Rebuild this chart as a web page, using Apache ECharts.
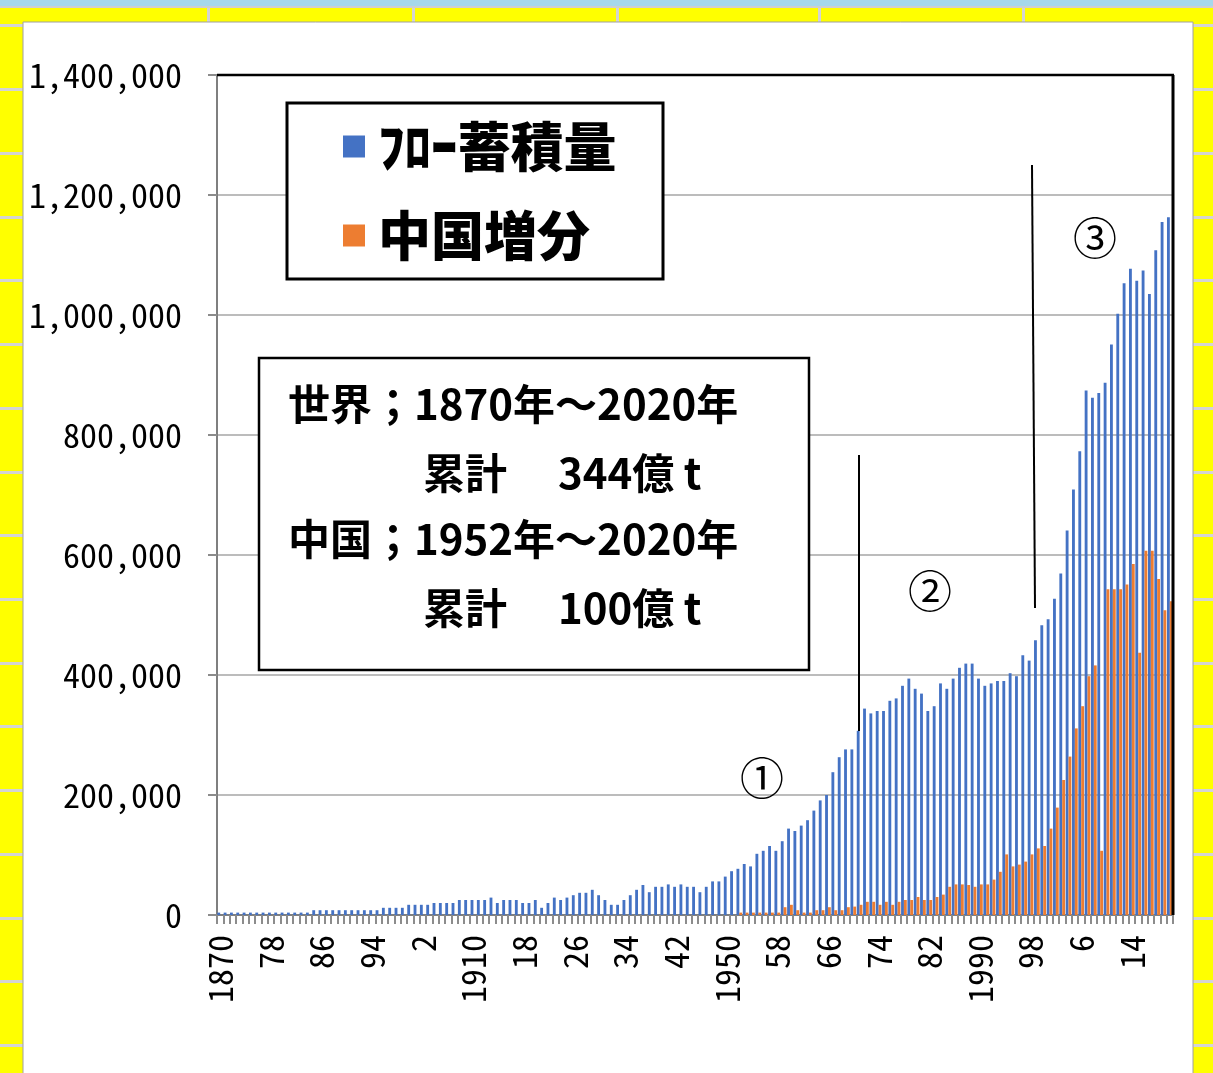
<!DOCTYPE html>
<html>
<head>
<meta charset="utf-8">
<title>フロー蓄積量と中国増分</title>
<script src="https://cdn.jsdelivr.net/npm/echarts@6/dist/echarts.min.js"></script>
<style>
html, body { margin: 0; padding: 0; background: #ffff00; }
#main { width: 1213px; height: 1073px; }
</style>
</head>
<body>
<div id="main"></div>
<script>
// years 1870 .. 2020
var years = [];
for (var y = 1870; y <= 2020; y++) years.push(y);

// category text as in the sheet: full year on decades, else last digits
var tickLabels = years.map(function (y) {
  return y % 10 === 0 ? String(y) : String(y % 100);
});

// フロー蓄積量 (1870-2020)
var flowStock = [
  4000, 4000, 4000, 4000, 4000, 4000, 4000, 4000, 4000, 4000,          // 1870
  4000, 4000, 4000, 4000, 4000, 8000, 8000, 8000, 8000, 8000,          // 1880
  8000, 8000, 8000, 8000, 8000, 8000, 12000, 12000, 12000, 12000,      // 1890
  17000, 17000, 17000, 17000, 20000, 20000, 20000, 20000, 25000, 25000, // 1900
  25000, 25000, 25000, 29000, 20000, 25000, 25000, 25000, 20000, 20000, // 1910
  25000, 12000, 20000, 29000, 25000, 29000, 33000, 37000, 37000, 42000, // 1920
  33000, 25000, 17000, 17000, 25000, 33000, 42000, 50000, 38000, 47000, // 1930
  47000, 51000, 47000, 51000, 47000, 47000, 38000, 47000, 56000, 56000, // 1940
  64000, 73000, 77000, 85000, 81000, 102000, 107000, 115000, 107000, 123000, // 1950
  144000, 140000, 149000, 158000, 174000, 191000, 200000, 238000, 263000, 276000, // 1960
  276000, 307000, 344000, 336000, 340000, 340000, 357000, 361000, 382000, 394000, // 1970
  377000, 369000, 340000, 348000, 386000, 377000, 394000, 412000, 419000, 419000, // 1980
  394000, 382000, 386000, 390000, 390000, 403000, 398000, 433000, 424000, 458000, // 1990
  483000, 493000, 527000, 569000, 641000, 709000, 773000, 874000, 862000, 870000, // 2000
  887000, 951000, 1002000, 1053000, 1077000, 1057000, 1074000, 1035000, 1108000, 1155000, // 2010
  1163000                                                                // 2020
];

// 中国増分 (1952-2020)
var chinaStart = 1952;
var chinaIncrement = [
  4000, 4000, 4000, 4000, 4000, 4000, 4000, 13000,                      // 1952
  17000, 8000, 4000, 4000, 8000, 8000, 13000, 8000, 8000, 13000,        // 1960
  14000, 17000, 22000, 22000, 17000, 22000, 17000, 22000, 25000, 25000, // 1970
  30000, 25000, 25000, 30000, 34000, 47000, 51000, 51000, 50000, 47000, // 1980
  51000, 51000, 59000, 72000, 101000, 81000, 84000, 89000, 101000, 111000, // 1990
  115000, 144000, 179000, 225000, 264000, 311000, 348000, 398000, 416000, 107000, // 2000
  543000, 543000, 543000, 551000, 585000, 437000, 607000, 607000, 560000, 508000, // 2010
  523000                                                                 // 2020
];
var chinaSeries = years.map(function (y) {
  return y < chinaStart ? null : chinaIncrement[y - chinaStart];
});

var yTicks = [0, 200000, 400000, 600000, 800000, 1000000, 1200000, 1400000];

var cjk = "'Noto Sans CJK JP', sans-serif";
var numFont = "'Noto Sans Mono CJK JP', 'DejaVu Sans Mono', monospace";

// side strips of the sheet behind the chart
var rowLines = [24, 88, 152, 216, 279, 343, 407, 471, 534, 598, 662, 725, 789, 853, 917, 980, 1044];
var colLines = [207, 412, 616, 818, 1022];

var bg = [
  { type: 'rect', z: -10, shape: { x: 0, y: 0, width: 1213, height: 6 }, style: { fill: '#a6d8ec' } },
  { type: 'rect', z: -10, shape: { x: 0, y: 6, width: 1213, height: 2 }, style: { fill: '#cfcfcf' } }
];
colLines.forEach(function (x) {
  bg.push({ type: 'rect', z: -10, shape: { x: x, y: 8, width: 3, height: 16 }, style: { fill: '#d4d4d4' } });
});
rowLines.forEach(function (yy) {
  bg.push({ type: 'rect', z: -10, shape: { x: 0, y: yy, width: 1213, height: 3 }, style: { fill: '#d4d4d4' } });
});
bg.push({ type: 'rect', z: -9, shape: { x: 23, y: 22, width: 1170, height: 1060 },
  style: { fill: '#ffffff', stroke: '#a0a0a0', lineWidth: 1 } });

function boxText(x, y, s) {
  return { type: 'text', z: 9, style: { x: x, y: y, text: s, fill: '#000',
    fontSize: 42, fontWeight: 'bold', fontFamily: cjk, verticalAlign: 'middle' } };
}

var overlay = [
  // plot frame top / right
  { type: 'line', z: 20, shape: { x1: 217, y1: 75, x2: 1174, y2: 75 }, style: { stroke: '#000', lineWidth: 2.5 } },
  { type: 'line', z: 20, shape: { x1: 1173, y1: 75, x2: 1173, y2: 915 }, style: { stroke: '#000', lineWidth: 3 } },
  // legend frame
  { type: 'rect', z: 8, shape: { x: 287, y: 103, width: 376, height: 176 },
    style: { fill: '#fff', stroke: '#000', lineWidth: 3 } },
  // info box
  { type: 'rect', z: 8, shape: { x: 259, y: 358, width: 550, height: 312 },
    style: { fill: '#fff', stroke: '#000', lineWidth: 2.5 } },
  boxText(288, 404, '世界；1870年～2020年'),
  boxText(423, 473, '累計'),
  boxText(558, 473, '344億 t'),
  boxText(288, 539, '中国；1952年～2020年'),
  boxText(423, 608, '累計'),
  boxText(558, 608, '100億 t'),
  // period markers
  { type: 'line', z: 20, shape: { x1: 859, y1: 455, x2: 859, y2: 731 }, style: { stroke: '#000', lineWidth: 2 } },
  { type: 'line', z: 20, shape: { x1: 1032, y1: 165, x2: 1035, y2: 608 }, style: { stroke: '#000', lineWidth: 2 } },
  { type: 'text', z: 20, style: { x: 762, y: 778, text: '①', fill: '#000', fontSize: 44,
    fontFamily: cjk, align: 'center', verticalAlign: 'middle' } },
  { type: 'text', z: 20, style: { x: 930, y: 591, text: '②', fill: '#000', fontSize: 44,
    fontFamily: cjk, align: 'center', verticalAlign: 'middle' } },
  { type: 'text', z: 20, style: { x: 1095, y: 238, text: '③', fill: '#000', fontSize: 44,
    fontFamily: cjk, align: 'center', verticalAlign: 'middle' } }
];

var chart = echarts.init(document.getElementById('main'));
var option = {
  animation: false,
  backgroundColor: '#ffff00',
  grid: { left: 217, right: 40, top: 75, bottom: 158 },
  legend: {
    orient: 'vertical',
    left: 343,
    top: 120,
    padding: 0,
    itemWidth: 22,
    itemHeight: 22,
    itemGap: 36,
    icon: 'rect',
    selectedMode: false,
    z: 12,
    textStyle: { fontSize: 53, fontWeight: 900, fontFamily: cjk, color: '#000',
      lineHeight: 52, padding: [0, 0, 0, 8] },
    data: ['ﾌﾛｰ蓄積量', '中国増分']
  },
  xAxis: {
    type: 'category',
    data: tickLabels,
    axisLine: { lineStyle: { color: '#7f7f7f', width: 2 } },
    axisTick: { show: true, interval: 0, length: 9, lineStyle: { color: '#8c8c8c', width: 2 } },
    axisLabel: { interval: 7, rotate: 90, margin: 20, fontSize: 34, fontFamily: numFont, color: '#000' }
  },
  yAxis: {
    type: 'value',
    min: yTicks[0],
    max: yTicks[yTicks.length - 1],
    interval: yTicks[1] - yTicks[0],
    axisLine: { show: true, lineStyle: { color: '#7f7f7f', width: 2 } },
    axisTick: { show: true, length: 9, lineStyle: { color: '#8c8c8c', width: 2 } },
    axisLabel: {
      margin: 35, fontSize: 34, fontFamily: numFont, color: '#000',
      formatter: function (v) { return v.toLocaleString('en-US'); }
    },
    splitLine: { lineStyle: { color: '#a6a6a6', width: 1.5 } }
  },
  series: [
    {
      name: 'ﾌﾛｰ蓄積量',
      type: 'bar',
      data: flowStock,
      barGap: '0%',
      barCategoryGap: '10%',
      itemStyle: { color: '#4472c4' }
    },
    {
      name: '中国増分',
      type: 'bar',
      data: chinaSeries,
      itemStyle: { color: '#ed7d31' }
    }
  ],
  graphic: { elements: bg.concat(overlay) }
};
chart.setOption(option);
</script>
</body>
</html>
